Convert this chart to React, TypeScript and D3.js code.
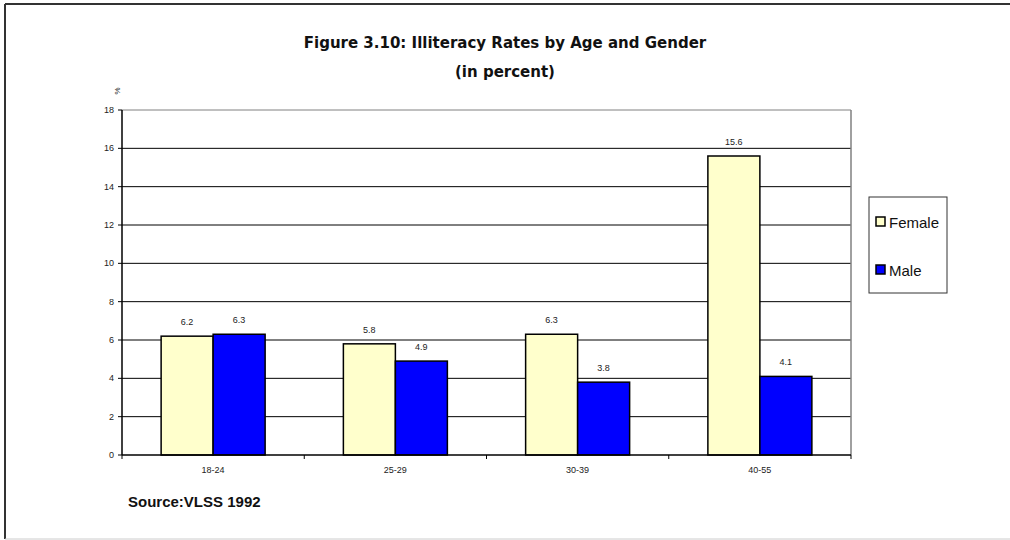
import React from "react";
import * as d3 from "d3";

const categories = ["18-24", "25-29", "30-39", "40-55"];
const female = [6.2, 5.8, 6.3, 15.6];
const male = [6.3, 4.9, 3.8, 4.1];
const yTicks = [0, 2, 4, 6, 8, 10, 12, 14, 16, 18];
const seriesNames = ["Female", "Male"];
const seriesColors = ["#FFFFCC", "#0000FF"];

const W = 1010;
const H = 540;
const left = 122;
const right = 851;
const top = 110;
const bottom = 455;

export default function App() {
  const x = d3.scaleBand<string>().domain(categories).range([left, right]).padding(0);
  const y = d3.scaleLinear().domain([0, 18]).range([bottom, top]);
  const barW = 52;
  const series = [female, male];
  const font = "Arial, 'Liberation Sans', sans-serif";
  const titleFont = "'DejaVu Sans', Verdana, sans-serif";

  return (
    <svg width={W} height={H} style={{ position: "absolute", left: 0, top: 0, background: "#fff" }} fontFamily={font}>
      <rect x={0} y={0} width={W} height={H} fill="#fff" />
      {/* outer frame */}
      <line x1={5} y1={4} x2={W} y2={4} stroke="#333" strokeWidth={2} />
      <line x1={5} y1={4} x2={5} y2={539} stroke="#333" strokeWidth={2} />
      <line x1={5} y1={539} x2={W} y2={539} stroke="#ccc" strokeWidth={1} />

      <text x={505} y={48} textAnchor="middle" fontSize={15} fontWeight="bold" fill="#111" fontFamily={titleFont}>
        Figure 3.10: Illiteracy Rates by Age and Gender
      </text>
      <text x={505} y={77} textAnchor="middle" fontSize={15} fontWeight="bold" fill="#111" fontFamily={titleFont}>
        (in percent)
      </text>

      {/* gridlines */}
      {yTicks.map((t) =>
        t === 0 ? null : (
          <line key={t} x1={left} x2={right} y1={y(t)} y2={y(t)} stroke={t === 18 ? "#808080" : "#000"} strokeWidth={1} />
        )
      )}
      <line x1={right} x2={right} y1={top} y2={bottom} stroke="#808080" strokeWidth={1.5} />

      {/* bars */}
      {categories.map((c, i) => {
        const cx = (x(c) as number) + x.bandwidth() / 2;
        return series.map((s, k) => {
          const bx = cx - barW + k * barW;
          return (
            <g key={c + k}>
              <rect x={bx} y={y(s[i])} width={barW} height={bottom - y(s[i])} fill={seriesColors[k]} stroke="#000" strokeWidth={1.5} />
              <text x={bx + barW / 2} y={y(s[i]) - 11} textAnchor="middle" fontSize={9} fill="#222">
                {s[i].toFixed(1)}
              </text>
            </g>
          );
        });
      })}

      {/* axes */}
      <line x1={left} x2={left} y1={top} y2={bottom} stroke="#000" strokeWidth={1.5} />
      <line x1={left} x2={right} y1={bottom} y2={bottom} stroke="#000" strokeWidth={1.5} />
      {yTicks.map((t) => (
        <g key={"yt" + t}>
          <line x1={left - 4} x2={left} y1={y(t)} y2={y(t)} stroke="#000" />
          <text x={left - 8} y={y(t) + 3} textAnchor="end" fontSize={9} fill="#222">
            {t}
          </text>
        </g>
      ))}
      {categories.map((c) => (
        <line key={"xt" + c} x1={(x(c) as number)} x2={(x(c) as number)} y1={bottom} y2={bottom + 4} stroke="#000" />
      ))}
      <line x1={right} x2={right} y1={bottom} y2={bottom + 4} stroke="#000" />
      {categories.map((c) => (
        <text key={"xl" + c} x={(x(c) as number) + x.bandwidth() / 2} y={bottom + 18} textAnchor="middle" fontSize={9} fill="#222">
          {c}
        </text>
      ))}

      <text transform={`translate(120,91) rotate(-90)`} textAnchor="middle" fontSize={8} fill="#222">
        %
      </text>

      {/* legend */}
      <rect x={869} y={197} width={78} height={96} fill="#fff" stroke="#333" strokeWidth={1} />
      {seriesNames.map((n, k) => (
        <g key={n}>
          <rect x={876} y={217 + k * 48} width={9} height={9} fill={seriesColors[k]} stroke="#000" strokeWidth={1.5} />
          <text x={889} y={228 + k * 48} fontSize={15} fill="#111">
            {n}
          </text>
        </g>
      ))}

      <text x={128} y={507} fontSize={15} fontWeight="bold" fill="#111">
        Source:VLSS 1992
      </text>
    </svg>
  );
}
